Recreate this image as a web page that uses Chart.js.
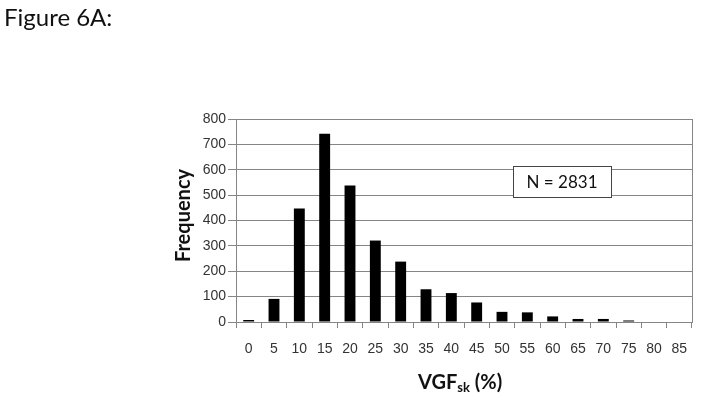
<!DOCTYPE html>
<html>
<head>
<meta charset="utf-8">
<script src="https://cdn.jsdelivr.net/npm/chart.js@4/dist/chart.umd.min.js"></script>
<style>
  html, body { margin: 0; padding: 0; background: #fff; }
  #wrap { position: relative; width: 724px; height: 413px; }
  #figTitle { position: absolute; left: 4px; top: 2px; font-family: Lato, sans-serif; font-size: 24px; color: #111; }
  #xTitle { position: absolute; left: 418px; top: 369px; font-family: Lato, sans-serif; font-weight: bold; font-size: 20px; color: #111; }
  #xTitle sub { font-size: 13px; vertical-align: -3px; }
</style>
</head>
<body>
<div id="wrap">
  <canvas id="chart" width="724" height="413"></canvas>
  <div id="figTitle">Figure 6A:</div>
  <div id="xTitle">VGF<sub>sk</sub> (%)</div>
</div>
<script>
// histogram bins (VGFsk %) and counts
const categorias = ['0', '5', '10', '15', '20', '25', '30', '35', '40', '45', '50', '55', '60', '65', '70', '75', '80', '85'];
const frecuencias = [8, 91, 447, 742, 538, 321, 238, 129, 114, 77, 40, 38, 22, 12, 12, 6, 0, 0];
const yTicks = [0, 100, 200, 300, 400, 500, 600, 700, 800];
const nota = 'N = 2831';
const tituloY = 'Frequency';

const gris = '#858585';

// box with N plus the rotated y title
const extras = {
    id: 'extras',
    afterDraw(chart) {
        const ctx = chart.ctx;
        const area = chart.chartArea;
        ctx.save();
        // N box
        const bx = 513, by = 166, bw = 98, bh = 31;
        ctx.fillStyle = '#fff';
        ctx.fillRect(bx, by, bw, bh);
        ctx.strokeStyle = '#444';
        ctx.lineWidth = 1;
        ctx.strokeRect(bx + 0.5, by + 0.5, bw, bh);
        ctx.fillStyle = '#111';
        ctx.font = '17px Lato, sans-serif';
        ctx.textAlign = 'center';
        ctx.textBaseline = 'middle';
        ctx.fillText(nota, bx + bw / 2, by + bh / 2 + 1);
        // y title
        ctx.translate(184, (area.top + area.bottom) / 2 - 5);
        ctx.rotate(-Math.PI / 2);
        ctx.font = 'bold 20px Lato, sans-serif';
        ctx.fillText(tituloY, 0, 0);
        ctx.restore();
    }
};

const ctx = document.getElementById('chart').getContext('2d');
new Chart(ctx, {
    type: 'bar',
    data: {
        labels: categorias,
        datasets: [{
            data: frecuencias,
            backgroundColor: '#000',
            barPercentage: 0.43,
            categoryPercentage: 1
        }]
    },
    options: {
        responsive: false,
        animation: false,
        layout: { padding: { left: 160, right: 32, top: 119, bottom: 0 } },
        plugins: { legend: { display: false }, tooltip: { enabled: false } },
        scales: {
            x: {
                offset: true,
                grid: { offset: true, drawOnChartArea: false, color: gris, tickLength: 6 },
                border: { color: gris },
                ticks: { color: '#333', font: { family: 'Liberation Sans', size: 14 }, padding: 13, maxRotation: 0, autoSkip: false },
                afterFit(scale) { scale.height = 91; }
            },
            y: {
                min: 0,
                max: 800,
                afterBuildTicks(scale) { scale.ticks = yTicks.map(v => ({ value: v })); },
                grid: { color: gris, tickLength: 8 },
                border: { color: gris },
                ticks: { color: '#333', font: { family: 'Liberation Sans', size: 14 }, padding: 2 },
                afterFit(scale) { scale.width = 76; }
            }
        }
    },
    plugins: [extras, {
        id: 'marco',
        afterDraw(chart) {
            const a = chart.chartArea;
            const c = chart.ctx;
            c.save();
            c.strokeStyle = gris;
            c.lineWidth = 1;
            c.beginPath();
            c.moveTo(Math.round(a.right) + 0.5, a.top);
            c.lineTo(Math.round(a.right) + 0.5, a.bottom);
            c.stroke();
            c.restore();
        }
    }]
});
</script>
</body>
</html>
